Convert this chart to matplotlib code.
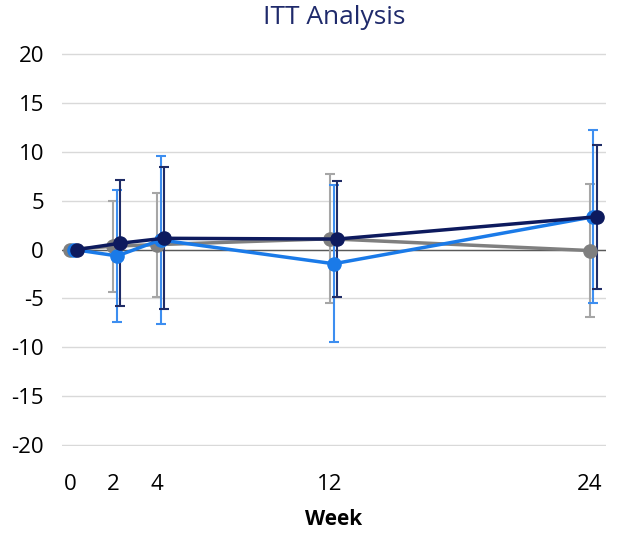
import numpy as np
import matplotlib.pyplot as plt

# data
weeks = [0, 2, 4, 12, 24]
gray_mean = [0.0, 0.35, 0.5, 1.1, -0.1]
gray_sd = [0.0, 4.65, 5.3, 6.6, 6.8]
blue_mean = [0.0, -0.65, 0.98, -1.45, 3.35]
blue_sd = [0.0, 6.75, 8.6, 8.0, 8.85]
navy_mean = [0.0, 0.65, 1.15, 1.07, 3.35]
navy_sd = [0.0, 6.45, 7.25, 5.9, 7.35]

offsets = [0.0, 0.18, 0.33]
series = [
    (gray_mean, gray_sd, '#7f7f7f', '#a6a6a6'),
    (blue_mean, blue_sd, '#1a7ae8', '#3d8ef0'),
    (navy_mean, navy_sd, '#0d1a5e', '#1f2c66'),
]

plt.rcParams['font.family'] = ['Open Sans', 'DejaVu Sans']
plt.rcParams['axes.unicode_minus'] = False

fig = plt.figure(figsize=(6.22, 5.33), dpi=100)
ax = fig.add_axes([0.0997, 0.163, 0.8743, 0.7376])

for i, (m, sd, col, ecol) in enumerate(series):
    xs = np.array(weeks) + offsets[i]
    ax.errorbar(xs, m, yerr=sd, fmt='none', ecolor=ecol, elinewidth=1.5,
                capsize=3.5, capthick=1.5, zorder=3 + i)
    ax.plot(xs, m, color=col, linewidth=2.5, marker='o', markersize=9.5,
            zorder=6 + i)

ax.axhline(0, color='#595959', linewidth=1.0, zorder=2)
ax.set_xlim(-0.37, 24.75)
ax.set_ylim(-20.08, 20.08)
ax.set_yticks(range(-20, 21, 5))
ax.set_xticks(weeks)
ax.yaxis.grid(True, color='#d9d9d9', linewidth=1.0)
ax.set_axisbelow(True)
for s in ax.spines.values():
    s.set_visible(False)
ax.tick_params(length=0, labelsize=16, colors='black')
ax.tick_params(axis='y', pad=13)
ax.tick_params(axis='x', pad=20)
ax.set_xlabel('Week', fontsize=15, fontweight='bold', labelpad=10)
ax.set_title('ITT Analysis', fontsize=19, color='#1f2a6b', pad=21)

fig.savefig('out.png', dpi=100)
